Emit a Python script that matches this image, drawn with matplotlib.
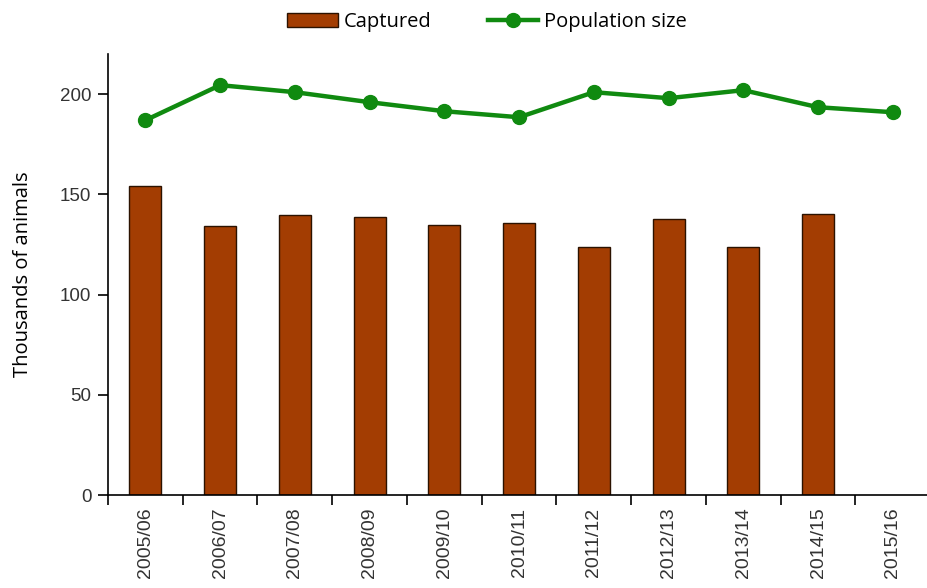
import numpy as np
import matplotlib.pyplot as plt

seasons = ["2005/06", "2006/07", "2007/08", "2008/09", "2009/10", "2010/11",
           "2011/12", "2012/13", "2013/14", "2014/15", "2015/16"]
captured = [154, 134, 139.6, 138.6, 134.7, 135.7, 123.7, 137.7, 123.7, 140, np.nan]
population = [187, 204.5, 201, 196, 191.5, 188.5, 201, 198, 202, 193.5, 191]

fig = plt.figure(figsize=(9.28, 5.88), dpi=100)
ax = fig.add_axes([108 / 928, 0.158, 820 / 928, 0.75])

x = np.arange(len(seasons))
bars = ax.bar(x, captured, width=0.43, color="#A33D02", edgecolor="#2b1200",
              linewidth=1.0, label="Captured")
line, = ax.plot(x, population, color="#108A10", linewidth=3.2, marker="o",
                markersize=10, label="Population size")

ax.set_xlim(-0.5, 10.47)
ax.set_ylim(0, 220)
ax.set_yticks([0, 50, 100, 150, 200])

ax.set_xticks(x)
ax.set_xticklabels(seasons, rotation=90, fontsize=14, family="Liberation Sans",
                   color="#333333")
ax.set_xticks(np.arange(-0.5, 10.5, 1), minor=True)
ax.tick_params(axis="x", which="major", length=0, pad=9)
ax.tick_params(axis="x", which="minor", length=7, width=1.2, direction="out")
ax.tick_params(axis="y", length=7, width=1.2, labelsize=13.5, labelcolor="#333333", pad=5)
for lab in ax.get_yticklabels():
    lab.set_family("Liberation Sans")

for s in ["top", "right"]:
    ax.spines[s].set_visible(False)
for s in ["left", "bottom"]:
    ax.spines[s].set_linewidth(1.2)

ax.set_ylabel("Thousands of animals", fontsize=14.5, family="Open Sans")
ax.yaxis.set_label_coords(-(108 - 33) / 820, 0.5)

fig.legend([bars, line], ["Captured", "Population size"], loc="center",
           bbox_to_anchor=(487 / 928, 1 - 22 / 588),
           ncol=2, frameon=False, prop={"family": "Open Sans", "size": 14.5},
           handlelength=2.5, columnspacing=2.8, handletextpad=0.3)

plt.savefig("out.png", dpi=100)
